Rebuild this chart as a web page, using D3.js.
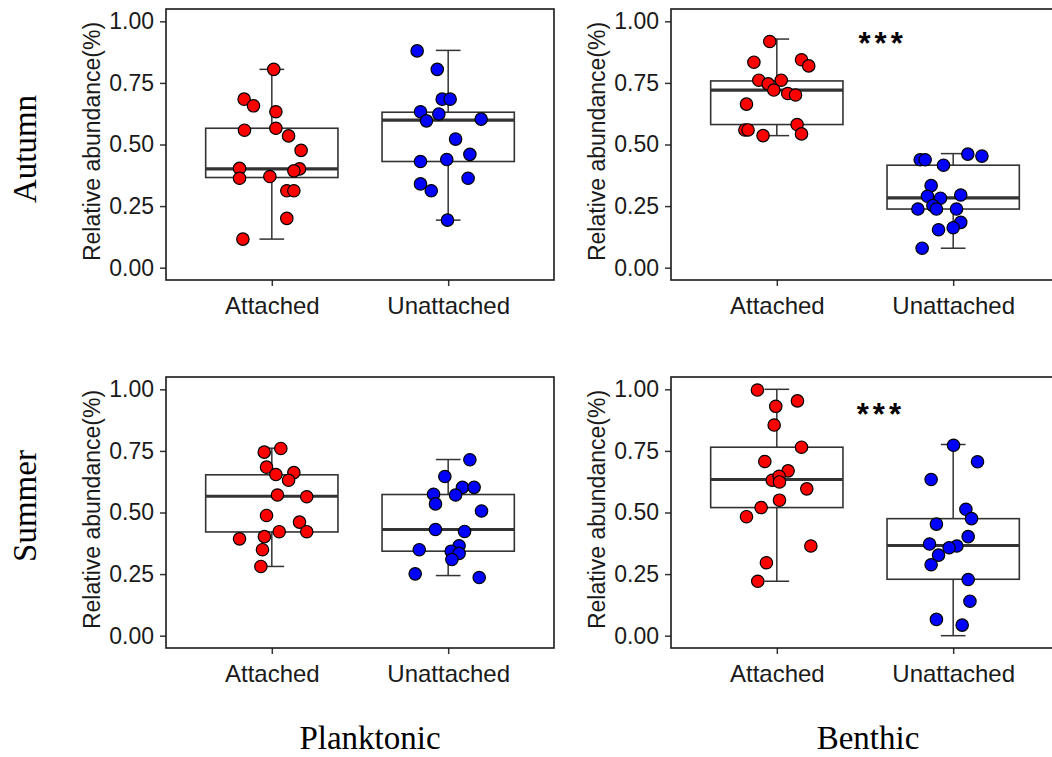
<!DOCTYPE html>
<html>
<head>
<meta charset="utf-8">
<script src="https://cdn.jsdelivr.net/npm/d3@7"></script>
<style>
  html, body { margin: 0; padding: 0; background: #ffffff; }
  svg { display: block; }
</style>
</head>
<body>
<script>
// ---------------- DATA ----------------
const categories = ["Attached", "Unattached"];
const seasons = ["Autumn", "Summer"];
const habitats = ["Planktonic", "Benthic"];
const yTicks = [0, 0.25, 0.5, 0.75, 1.0];
const groupColors = ["#FF0000", "#0000FF"];
const significance = ["", "***"];

// Autumn / Planktonic
const autPlankAttached = [0.805, 0.684, 0.657, 0.633, 0.558, 0.566, 0.535, 0.476, 0.403, 0.401, 0.393, 0.363, 0.370, 0.312, 0.312, 0.200, 0.116];
const autPlankAttachedJitter = [0.011, -0.157, -0.104, 0.023, -0.155, 0.023, 0.095, 0.166, -0.183, 0.157, 0.125, -0.183, -0.011, 0.085, 0.125, 0.085, -0.164];
const autPlankAttachedBox = [0.116, 0.366, 0.401, 0.566, 0.805];
const autPlankUnattached = [0.880, 0.805, 0.684, 0.684, 0.633, 0.624, 0.596, 0.603, 0.522, 0.460, 0.431, 0.439, 0.363, 0.340, 0.312, 0.193];
const autPlankUnattachedJitter = [-0.176, -0.062, -0.034, 0.011, -0.157, -0.053, -0.123, 0.187, 0.042, 0.123, -0.157, -0.008, 0.113, -0.157, -0.096, -0.004];
const autPlankUnattachedBox = [0.193, 0.431, 0.599, 0.631, 0.882];

// Autumn / Benthic
const autBenthAttached = [0.918, 0.834, 0.844, 0.819, 0.761, 0.746, 0.761, 0.721, 0.707, 0.701, 0.664, 0.559, 0.559, 0.581, 0.543, 0.536];
const autBenthAttachedJitter = [-0.040, -0.130, 0.140, 0.181, -0.102, -0.049, 0.025, -0.017, 0.062, 0.106, -0.172, -0.181, -0.163, 0.115, 0.140, -0.078];
const autBenthAttachedBox = [0.536, 0.581, 0.721, 0.758, 0.928];
const autBenthUnattached = [0.438, 0.438, 0.416, 0.461, 0.453, 0.333, 0.290, 0.282, 0.295, 0.252, 0.238, 0.238, 0.238, 0.184, 0.162, 0.154, 0.079];
const autBenthUnattachedJitter = [-0.187, -0.159, -0.055, 0.083, 0.163, -0.125, -0.146, -0.072, 0.043, -0.115, -0.200, -0.095, 0.019, 0.043, 0.000, -0.083, -0.176];
const autBenthUnattachedBox = [0.079, 0.238, 0.283, 0.416, 0.463];

// Summer / Planktonic
const sumPlankAttached = [0.760, 0.745, 0.684, 0.654, 0.662, 0.631, 0.571, 0.564, 0.488, 0.461, 0.422, 0.422, 0.393, 0.402, 0.349, 0.281];
const sumPlankAttachedJitter = [0.051, -0.043, -0.030, 0.023, 0.125, 0.095, 0.032, 0.198, -0.030, 0.157, 0.042, 0.198, -0.183, -0.042, -0.053, -0.062];
const sumPlankAttachedBox = [0.281, 0.421, 0.566, 0.653, 0.761];
const sumPlankUnattached = [0.714, 0.646, 0.602, 0.602, 0.574, 0.571, 0.535, 0.506, 0.431, 0.423, 0.349, 0.365, 0.343, 0.334, 0.309, 0.251, 0.236];
const sumPlankUnattachedJitter = [0.123, -0.019, 0.081, 0.147, -0.083, 0.042, -0.072, 0.189, -0.072, 0.093, -0.164, 0.062, 0.017, 0.062, 0.021, -0.187, 0.176];
const sumPlankUnattachedBox = [0.244, 0.343, 0.431, 0.573, 0.715];

// Summer / Benthic
const sumBenthAttached = [0.997, 0.953, 0.931, 0.855, 0.765, 0.707, 0.669, 0.631, 0.647, 0.624, 0.596, 0.550, 0.520, 0.483, 0.364, 0.296, 0.221];
const sumBenthAttachedJitter = [-0.110, 0.117, -0.006, -0.015, 0.140, -0.068, 0.064, -0.026, 0.013, 0.015, 0.170, 0.015, -0.089, -0.172, 0.193, -0.059, -0.108];
const sumBenthAttachedBox = [0.221, 0.520, 0.634, 0.765, 1.000];
const sumBenthUnattached = [0.773, 0.706, 0.634, 0.513, 0.475, 0.453, 0.402, 0.372, 0.364, 0.357, 0.327, 0.288, 0.228, 0.140, 0.066, 0.043];
const sumBenthUnattachedJitter = [0.002, 0.138, -0.125, 0.072, 0.104, -0.095, 0.085, -0.134, 0.021, -0.023, -0.083, -0.125, 0.085, 0.095, -0.095, 0.051];
const sumBenthUnattachedBox = [0.000, 0.229, 0.366, 0.475, 0.776];

// significance label placement (data coords: category position, value)
const sigPosX = [1.6, 1.59];
const sigPosY = [0.93, 0.92];

// ---------------- PANEL TABLE ----------------
const panels = [
  { row: 0, col: 0, groups: [
      { values: autPlankAttached, jitter: autPlankAttachedJitter, box: autPlankAttachedBox },
      { values: autPlankUnattached, jitter: autPlankUnattachedJitter, box: autPlankUnattachedBox }] },
  { row: 0, col: 1, groups: [
      { values: autBenthAttached, jitter: autBenthAttachedJitter, box: autBenthAttachedBox },
      { values: autBenthUnattached, jitter: autBenthUnattachedJitter, box: autBenthUnattachedBox }] },
  { row: 1, col: 0, groups: [
      { values: sumPlankAttached, jitter: sumPlankAttachedJitter, box: sumPlankAttachedBox },
      { values: sumPlankUnattached, jitter: sumPlankUnattachedJitter, box: sumPlankUnattachedBox }] },
  { row: 1, col: 1, groups: [
      { values: sumBenthAttached, jitter: sumBenthAttachedJitter, box: sumBenthAttachedBox },
      { values: sumBenthUnattached, jitter: sumBenthUnattachedJitter, box: sumBenthUnattachedBox }] }
];

// ---------------- LAYOUT ----------------
const W = 1052, H = 757;
const panelLeft = [166, 671];
const panelTop = [9, 377];
const panelW = 388, panelH = 271;
const sans = "'Liberation Sans', Arial, sans-serif";
const serif = "'Liberation Serif', 'Times New Roman', serif";
const ink = "#1a1a1a";
const boxInk = "#333333";

const svg = d3.select("body").append("svg")
  .attr("width", W).attr("height", H)
  .attr("viewBox", `0 0 ${W} ${H}`);
svg.append("rect").attr("width", W).attr("height", H).attr("fill", "#ffffff");

panels.forEach(p => {
  const px = panelLeft[p.col], py = panelTop[p.row];
  const x = d3.scaleLinear().domain([0.4, 2.6]).range([px, px + panelW]);
  const y = d3.scaleLinear().domain([-0.05, 1.05]).range([py + panelH, py]);
  const g = svg.append("g");

  // y axis
  const ya = g.append("g").attr("transform", `translate(${px},0)`)
    .call(d3.axisLeft(y).tickValues(yTicks).tickFormat(d3.format(".2f")).tickSize(6).tickPadding(6));
  ya.select(".domain").remove();
  ya.selectAll(".tick line").attr("stroke", boxInk).attr("stroke-width", 1.5);
  ya.selectAll(".tick text").attr("fill", ink).style("font-family", sans).style("font-size", "23px");

  // x axis
  const xa = g.append("g").attr("transform", `translate(0,${py + panelH})`)
    .call(d3.axisBottom(x).tickValues([1, 2]).tickFormat(i => categories[i - 1]).tickSize(6).tickPadding(11));
  xa.select(".domain").remove();
  xa.selectAll(".tick line").attr("stroke", boxInk).attr("stroke-width", 1.5);
  xa.selectAll(".tick text").attr("fill", ink).style("font-family", sans).style("font-size", "24px");

  // y axis title
  g.append("text")
    .attr("transform", `translate(${px - 66},${py + panelH / 2 - 3}) rotate(-90)`)
    .attr("text-anchor", "middle")
    .attr("fill", ink)
    .style("font-family", sans).style("font-size", "23px")
    .text("Relative abundance(%)");

  // boxes
  p.groups.forEach((grp, i) => {
    const c = i + 1;
    const [lo, q1, med, q3, hi] = grp.box;
    const bg = g.append("g");
    // whiskers
    bg.append("line").attr("x1", x(c)).attr("x2", x(c)).attr("y1", y(q3)).attr("y2", y(hi))
      .attr("stroke", boxInk).attr("stroke-width", 1.5);
    bg.append("line").attr("x1", x(c)).attr("x2", x(c)).attr("y1", y(q1)).attr("y2", y(lo))
      .attr("stroke", boxInk).attr("stroke-width", 1.5);
    [lo, hi].forEach(v => {
      bg.append("line").attr("x1", x(c - 0.07)).attr("x2", x(c + 0.07)).attr("y1", y(v)).attr("y2", y(v))
        .attr("stroke", boxInk).attr("stroke-width", 1.5);
    });
    // box
    bg.append("rect")
      .attr("x", x(c - 0.375)).attr("width", x(c + 0.375) - x(c - 0.375))
      .attr("y", y(q3)).attr("height", y(q1) - y(q3))
      .attr("fill", "#ffffff").attr("stroke", boxInk).attr("stroke-width", 1.6);
    bg.append("line").attr("x1", x(c - 0.375)).attr("x2", x(c + 0.375)).attr("y1", y(med)).attr("y2", y(med))
      .attr("stroke", boxInk).attr("stroke-width", 3.2);
  });

  // points
  p.groups.forEach((grp, i) => {
    const c = i + 1;
    g.append("g").selectAll("circle").data(grp.values).join("circle")
      .attr("cx", (d, k) => x(c + grp.jitter[k]))
      .attr("cy", d => y(d))
      .attr("r", 6.2)
      .attr("fill", groupColors[i])
      .attr("stroke", "#000000").attr("stroke-width", 1.2);
  });

  // significance
  if (significance[p.col]) {
    g.append("text")
      .attr("x", x(sigPosX[p.row])).attr("y", y(sigPosY[p.row]))
      .attr("dy", "0.5em")
      .attr("text-anchor", "middle")
      .attr("fill", "#000000")
      .style("font-family", sans).style("font-size", "31px").style("font-weight", "bold")
      .style("letter-spacing", "4px")
      .text(significance[p.col]);
  }

  // panel border
  g.append("rect").attr("x", px).attr("y", py).attr("width", panelW).attr("height", panelH)
    .attr("fill", "none").attr("stroke", ink).attr("stroke-width", 1.6);
});

// row labels
const rowCenters = [149, 506];
seasons.forEach((s, r) => {
  svg.append("text")
    .attr("transform", `translate(36,${rowCenters[r]}) rotate(-90)`)
    .attr("text-anchor", "middle")
    .attr("fill", "#000000")
    .style("font-family", serif).style("font-size", "33px")
    .text(s);
});

// column labels
const colCenters = [370, 868];
habitats.forEach((h, c) => {
  svg.append("text")
    .attr("x", colCenters[c]).attr("y", 749)
    .attr("text-anchor", "middle")
    .attr("fill", "#000000")
    .style("font-family", serif).style("font-size", "33px")
    .text(h);
});
</script>
</body>
</html>
